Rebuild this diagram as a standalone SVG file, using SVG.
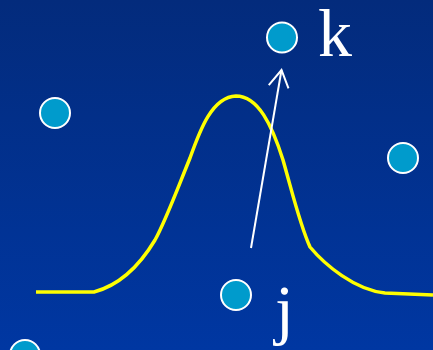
<svg xmlns="http://www.w3.org/2000/svg" width="433" height="350" viewBox="0 0 433 350">
<defs>
<linearGradient id="bg" x1="0" y1="0" x2="0" y2="1">
<stop offset="0" stop-color="#032b7c"/>
<stop offset="1" stop-color="#0037a2"/>
</linearGradient>
<marker id="ah" viewBox="0 0 20 22" refX="18" refY="11" markerWidth="20" markerHeight="22" markerUnits="userSpaceOnUse" orient="auto">
<path d="M1,1 L18,11 L1,21" fill="none" stroke="#ffffff" stroke-width="2"/>
</marker>
<style>
.n{fill:#009bcc;stroke:#ffffff;stroke-width:2}
.t{font-family:"Liberation Serif",serif;font-size:68px;fill:#ffffff}
</style>
</defs>
<rect width="433" height="350" fill="url(#bg)"/>
<path d="M36,292 L94,292 C120,285 140,265 155,240 C165,222 175,195 190,158 C200,130 212,97 236,96 C258,96 272,125 283,160 C293,195 300,225 310,247 C325,265 355,290 385,293 L433,295" fill="none" stroke="#ffff00" stroke-width="3.5"/>
<g id="connectors">
<path d="M251,248 L281.5,70" fill="none" stroke="#ffffff" stroke-width="2" marker-end="url(#ah)"/>
</g>
<g id="node-k"><circle class="n" cx="282" cy="37.5" r="15"/><text class="t" x="318" y="56">k</text></g>
<g id="node-a"><circle class="n" cx="55" cy="113" r="15"/></g>
<g id="node-b"><circle class="n" cx="403" cy="158" r="15"/></g>
<g id="node-j"><circle class="n" cx="236" cy="295" r="15"/><text class="t" x="275" y="332">j</text></g>
<g id="node-c"><circle class="n" cx="25" cy="355" r="15"/></g>
</svg>
